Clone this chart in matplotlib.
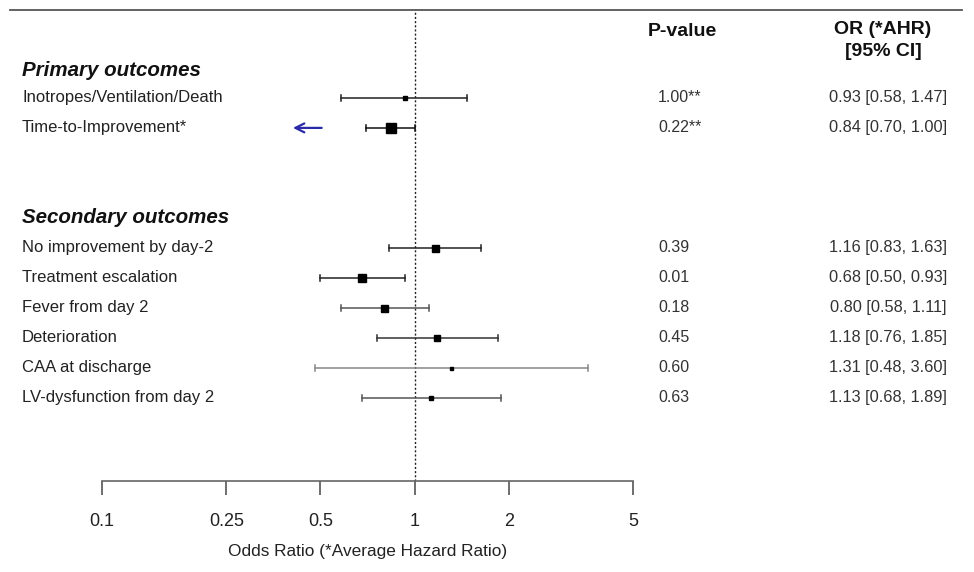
import matplotlib
matplotlib.use("Agg")
import matplotlib.pyplot as plt
from matplotlib.lines import Line2D
from matplotlib.transforms import blended_transform_factory
import numpy as np

plt.rcParams['font.family'] = ['Liberation Sans', 'DejaVu Sans']

# ---- data ----
groups = ["Primary outcomes", "Secondary outcomes"]
outcomes = ["Inotropes/Ventilation/Death", "Time-to-Improvement*",
            "No improvement by day-2", "Treatment escalation", "Fever from day 2",
            "Deterioration", "CAA at discharge", "LV-dysfunction from day 2"]
group_of = [0, 0, 1, 1, 1, 1, 1, 1]
est = [0.93, 0.84, 1.16, 0.68, 0.80, 1.18, 1.31, 1.13]
lo = [0.58, 0.70, 0.83, 0.50, 0.58, 0.76, 0.48, 0.68]
hi = [1.47, 1.00, 1.63, 0.93, 1.11, 1.85, 3.60, 1.89]
pvals = ["1.00**", "0.22**", "0.39", "0.01", "0.18", "0.45", "0.60", "0.63"]
tick_vals = [0.1, 0.25, 0.5, 1, 2, 5]
tick_labels = ["0.1", "0.25", "0.5", "1", "2", "5"]
xlabel = "Odds Ratio (*Average Hazard Ratio)"

# ---- layout / style ----
rows = [1, 2, 6, 7, 8, 9, 10, 11]
header_rows = [0.1, 5]
marker_px = [5, 10, 7, 8, 7, 6, 3, 4]
line_cols = ["#222222", "#111111", "#222222", "#222222", "#555555", "#333333", "#888888", "#555555"]

W, H = 974, 572
fig = plt.figure(figsize=(W / 100, H / 100), dpi=100)
x0, x1 = 102, 633
ytop, ybot = 10, 481
ax = fig.add_axes([x0 / W, 1 - ybot / H, (x1 - x0) / W, (ybot - ytop) / H])
ax.set_xscale('log')
ax.set_xlim(0.1, 5)
ax.set_ylim(13.77, -1.93)

for s in ['top', 'right', 'left']:
    ax.spines[s].set_visible(False)
ax.spines['bottom'].set_color('#666666')
ax.spines['bottom'].set_linewidth(1.2)
ax.set_yticks([])
ax.set_xticks(tick_vals)
ax.set_xticklabels(tick_labels, fontsize=13, color='#222222')
ax.minorticks_off()
ax.tick_params(axis='x', length=10, width=1.2, color='#555555', pad=13)
ax.set_xlabel(xlabel, fontsize=12.4, color='#222222', labelpad=10)

ax.axvline(1, color='#222222', ls=(0, (1.5, 1.5)), lw=1.0, zorder=1)

for i in range(len(outcomes)):
    r = rows[i]
    ax.plot([lo[i], hi[i]], [r, r], color=line_cols[i], lw=1.1, zorder=2)
    for v in (lo[i], hi[i]):
        ax.plot([v, v], [r - 0.1, r + 0.1], color=line_cols[i], lw=1.1, zorder=2)
    ax.plot([est[i]], [r], marker='s', ms=marker_px[i] * 0.72, color='black',
            mec='black', zorder=3, ls='none')

# arrow for time-to-improvement
ax.annotate("", xy=(0.40, rows[1]), xytext=(0.515, rows[1]),
            arrowprops=dict(arrowstyle='->', color='#2a2aa8', lw=1.6,
                            mutation_scale=16), annotation_clip=False)

tr = blended_transform_factory(fig.transFigure, ax.transData)
for g, r in zip(groups, header_rows):
    ax.text(22 / W, r, g, transform=tr, fontsize=14.8, fontweight='bold',
            fontstyle='italic', va='center', ha='left', color='#111111')
for i in range(len(outcomes)):
    r = rows[i]
    ax.text(22 / W, r, outcomes[i], transform=tr, fontsize=12, va='center',
            ha='left', color='#222222')
    ax.text(658 / W, r, pvals[i], transform=tr, fontsize=11.5, va='center',
            ha='left', color='#333333')
    ci = f"{est[i]:.2f} [{lo[i]:.2f}, {hi[i]:.2f}]"
    ax.text(947 / W, r, ci, transform=tr, fontsize=11.8, va='center',
            ha='right', color='#333333')

fig.text(682 / W, 1 - 31 / H, "P-value", fontsize=14, fontweight='bold',
         ha='center', va='center', color='#111111')
fig.text(883 / W, 1 - 29 / H, "OR (*AHR)", fontsize=14,
         fontweight='bold', ha='center', va='center', color='#111111')
fig.text(883 / W, 1 - 52 / H, "[95% CI]", fontsize=14,
         fontweight='bold', ha='center', va='center', color='#111111')

fig.add_artist(Line2D([10 / W, 962 / W], [1 - ytop / H, 1 - ytop / H],
                      transform=fig.transFigure, color='#555555', lw=1.3))

fig.savefig("out.png", dpi=100)
